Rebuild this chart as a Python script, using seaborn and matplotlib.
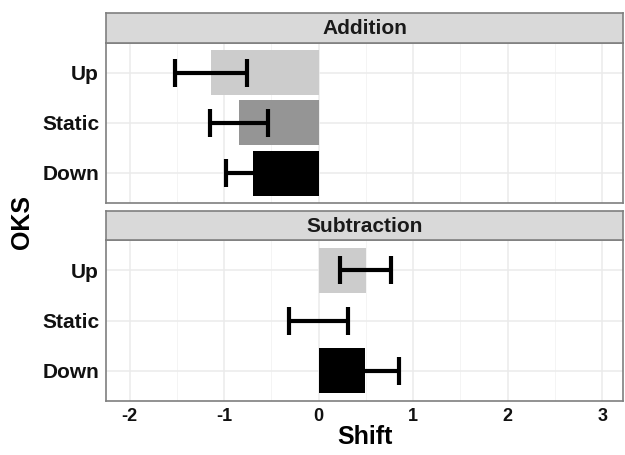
import matplotlib
matplotlib.use("Agg")
import matplotlib.pyplot as plt
import seaborn as sns
import pandas as pd
import numpy as np

# ---- data ----
panels = ["Addition", "Subtraction"]
categories = ["Up", "Static", "Down"]
addition_mean = [-1.14, -0.845, -0.69]
addition_err = [0.385, 0.305, 0.29]
subtraction_mean = [0.50, 0.0, 0.49]
subtraction_err = [0.27, 0.315, 0.36]
bar_colors = ["#CCCCCC", "#959595", "#000000"]
x_ticks = [-2, -1, 0, 1, 2, 3]

sns.set_theme(style="white")
plt.rcParams['font.family'] = ['Liberation Sans', 'DejaVu Sans']

fig = plt.figure(figsize=(6.25, 4.55), dpi=100)
W, H = 625.0, 455.0

def fx(px):
    return px / W

def fy(py):
    return (H - py) / H

layout = [
    # strip top, strip bottom/panel top, panel bottom
    (13, 43, 203),
    (211, 240, 401),
]

means_all = [addition_mean, subtraction_mean]
errs_all = [addition_err, subtraction_err]
left_px, right_px = 106, 623
xlim = (-2.25, 3.22)
border = "#7F7F7F"

for i, (name, (st, pt, pb)) in enumerate(zip(panels, layout)):
    ax = fig.add_axes([fx(left_px), fy(pb), fx(right_px - left_px), (pb - pt) / H])
    df = pd.DataFrame({"OKS": categories, "Shift": means_all[i]})
    sns.barplot(data=df, x="Shift", y="OKS", hue="OKS", order=categories,
                hue_order=categories, palette=bar_colors, orient="h",
                width=0.9, legend=False, ax=ax, errorbar=None, zorder=2,
                linewidth=0, saturation=1)
    ax.errorbar(means_all[i], np.arange(len(categories)), xerr=errs_all[i],
                fmt="none", ecolor="black", elinewidth=3, capsize=10,
                capthick=3, zorder=3)
    ax.set_xlim(*xlim)
    ax.set_ylim(2.6, -0.6)
    ax.set_xticks(x_ticks)
    ax.set_xticks([-1.5, -0.5, 0.5, 1.5, 2.5], minor=True)
    ax.grid(True, which="major", color="#EBEBEB", linewidth=1.1, zorder=0)
    ax.grid(True, which="minor", axis="x", color="#F2F2F2", linewidth=0.6, zorder=0)
    ax.set_axisbelow(True)
    for s in ax.spines.values():
        s.set_color(border)
        s.set_linewidth(1.2)
        s.set_visible(True)
    ax.set_ylabel("")
    ax.set_xlabel("")
    ax.tick_params(axis="y", length=3, color="#333333", labelsize=15,
                   labelcolor="#111111", pad=2)
    for lbl in ax.get_yticklabels():
        lbl.set_fontweight("bold")
    if i == 0:
        ax.tick_params(axis="x", length=0, labelbottom=False)
    else:
        ax.tick_params(axis="x", length=3, color="#333333", labelsize=13,
                       labelcolor="#111111", pad=2)
        ax.set_xticklabels([str(t) for t in x_ticks], fontweight="bold")
        ax.set_xlabel("Shift", fontsize=18, fontweight="bold", labelpad=0,
                      color="black")

    # strip
    sax = fig.add_axes([fx(left_px), fy(pt), fx(right_px - left_px), (pt - st) / H])
    sax.set_facecolor("#D9D9D9")
    sax.set_xticks([])
    sax.set_yticks([])
    for s in sax.spines.values():
        s.set_color(border)
        s.set_linewidth(1.2)
    sax.text(0.5, 0.48, name, ha="center", va="center", fontsize=15,
             fontweight="bold", color="#1A1A1A", transform=sax.transAxes)

fig.text(fx(22), fy(222), "OKS", rotation=90, ha="center", va="center",
         fontsize=18, fontweight="bold", color="black")

fig.savefig("out.png", dpi=100)
